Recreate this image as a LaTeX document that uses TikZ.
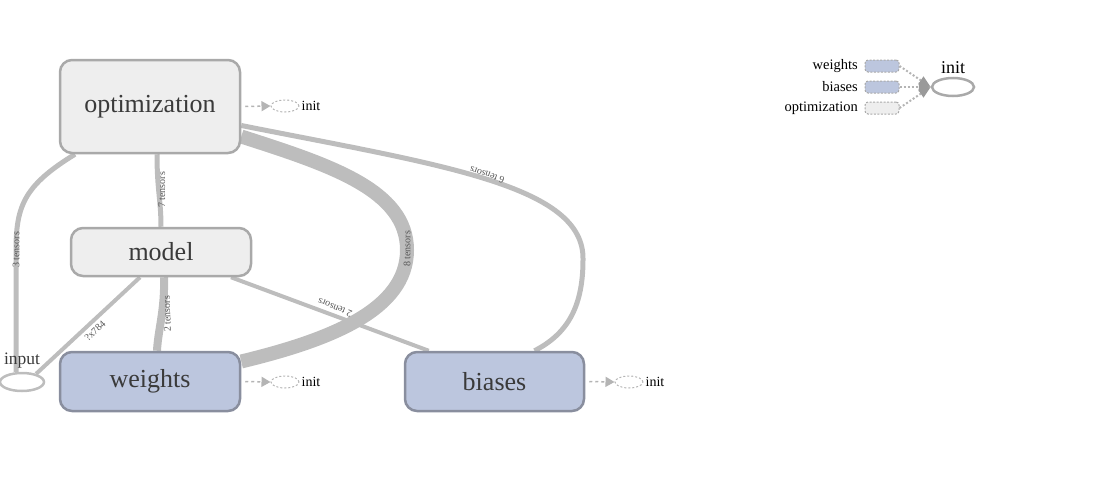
\documentclass[tikz,border=0pt]{standalone}
\usepackage{fontspec}
\setmainfont{Liberation Serif}
\usetikzlibrary{shapes.geometric, arrows.meta, backgrounds}
\definecolor{edgegray}{HTML}{BDBDBD}
\definecolor{boxfill}{HTML}{EEEEEE}
\definecolor{boxborder}{HTML}{A9A9A9}
\definecolor{varfill}{HTML}{BCC6DE}
\definecolor{varborder}{HTML}{898E9E}
\definecolor{nodetext}{HTML}{3A3A3A}
\definecolor{labeltext}{HTML}{555555}
\definecolor{initgray}{HTML}{B4B4B4}
\definecolor{tipgray}{HTML}{9A9A9A}
\tikzset{scopebox/.style={draw=boxborder, fill=boxfill, line width=2.5pt, rounded corners=12pt, text=nodetext, font=\fontsize{26}{30}\selectfont, inner sep=0pt}}
\tikzset{varbox/.style={scopebox, draw=varborder, fill=varfill}}
\tikzset{dataflow/.style={draw=edgegray, line width=#1}}
\tikzset{dataflow/.default=5pt}
\tikzset{edgelabel/.style={font=\fontsize{10}{12}\selectfont, text=labeltext, inner sep=0pt}}
\tikzset{initnode/.style={ellipse, draw=initgray, line width=1pt, dash pattern=on 2pt off 2pt, minimum width=28pt, minimum height=12pt, inner sep=0pt, label={[font=\fontsize{14}{16}\selectfont, inner sep=2pt]right:init}}}
\tikzset{initarrow/.style={draw=initgray, line width=1.5pt, dash pattern=on 3pt off 3pt, -{Triangle[length=9pt, width=10pt, color=initgray]}}}
\tikzset{legendbox/.style={draw=boxborder, line width=1pt, dash pattern=on 2pt off 1.5pt, rounded corners=3pt, minimum width=34pt, minimum height=12pt, inner sep=0pt}}
\tikzset{legendtext/.style={anchor=east, font=\fontsize{14.5}{16}\selectfont, inner sep=0pt}}
\tikzset{legendarrow/.style={draw=initgray, line width=2pt, dash pattern=on 2pt off 2pt, -{Triangle[length=12pt, width=9pt, color=tipgray]}}}
\begin{document}
\begin{tikzpicture}[x=1pt, y=-1pt]
    \useasboundingbox (0, 0) rectangle (1095, 479);
    % scopes and variables
    \node[scopebox, minimum width=180pt, minimum height=93pt] (opt) at (150, 106.5) {optimization};
    \node[scopebox, minimum width=180pt, minimum height=48pt] (model) at (161, 252) {model};
    \node[varbox, minimum width=180pt, minimum height=59pt] (weights) at (150, 381.5) {weights};
    \node[varbox, minimum width=179pt, minimum height=59pt] (biases) at (494.5, 381.5) {biases};
    \node[ellipse, draw=edgegray, fill=white, line width=2.5pt, minimum width=44pt, minimum height=18pt, inner sep=0pt,
        label={[font=\fontsize{17.5}{20}\selectfont, text=nodetext, inner sep=3pt]above:input}] (input) at (22, 382) {};
    % init ops
    \node[initnode] (optinit) at (285, 106) {};
    \node[initnode] (winit) at (285, 382) {};
    \node[initnode] (binit) at (629, 382) {};
    \draw[initarrow] ([xshift=4pt]opt.east) -- (optinit.west);
    \draw[initarrow] ([xshift=4pt]weights.east) -- (winit.west);
    \draw[initarrow] ([xshift=4pt]biases.east) -- (binit.west);
    % data flow
    \begin{scope}[on background layer]
        \draw[dataflow] ([xshift=-75pt]opt.south) .. controls (25, 185) and (16, 205) .. (16, 250) -- ([xshift=-6pt]input.north);
        \draw[dataflow] ([xshift=7pt]opt.south) .. controls (157, 190) and (161, 200) .. (model.north);
        \draw[dataflow=14pt] ([yshift=-30pt]opt.east) .. controls (330, 165) and (407, 190) .. (407, 250)
            .. controls (407, 310) and (330, 340) .. ([yshift=20pt]weights.east);
        \draw[dataflow] ([yshift=-19pt]opt.east) .. controls (440, 165) and (585, 185) .. (583, 260)
            .. controls (583, 310) and (565, 335) .. ([xshift=40pt]biases.north);
        \draw[dataflow=8pt] ([xshift=3pt]model.south) .. controls (165, 310) and (158, 330) .. ([xshift=7pt]weights.north);
        \draw[dataflow=4pt] ([xshift=70pt]model.south) -- ([xshift=25pt]biases.north west);
        \draw[dataflow=4pt] ([xshift=-21pt]model.south) -- (input.30);
    \end{scope}
    \node[edgelabel, rotate=90] (l3) at (16, 250) {3 tensors};
    \node[edgelabel, rotate=90] (l7) at (162, 190) {7 tensors};
    \node[edgelabel, rotate=90] (l8) at (407, 249) {8 tensors};
    \node[edgelabel, rotate=161] (l6) at (487, 175) {6 tensors};
    \node[edgelabel, rotate=158] (l2b) at (335, 308) {2 tensors};
    \node[edgelabel, rotate=92] (l2w) at (167, 314) {2 tensors};
    \node[edgelabel, rotate=43] (lx) at (95, 331) {?x784};
    % legend
    \node[legendbox, fill=varfill] (lw) at (882, 66) {};
    \node[legendbox, fill=varfill] (lb) at (882, 87) {};
    \node[legendbox, fill=boxfill] (lo) at (882, 108) {};
    \node[legendtext] (lwt) at (858, 66) {weights};
    \node[legendtext] (lbt) at (858, 87) {biases};
    \node[legendtext] (lot) at (858, 108) {optimization};
    \node[ellipse, draw=boxborder, line width=2.5pt, minimum width=42pt, minimum height=18pt, inner sep=0pt,
        label={[font=\fontsize{18}{20}\selectfont, inner sep=3pt]above:init}] (linit) at (953, 87) {};
    \foreach \src in {lw, lb, lo} {
        \draw[legendarrow] (\src.east) -- (linit.west);
    }
\end{tikzpicture}
\end{document}
